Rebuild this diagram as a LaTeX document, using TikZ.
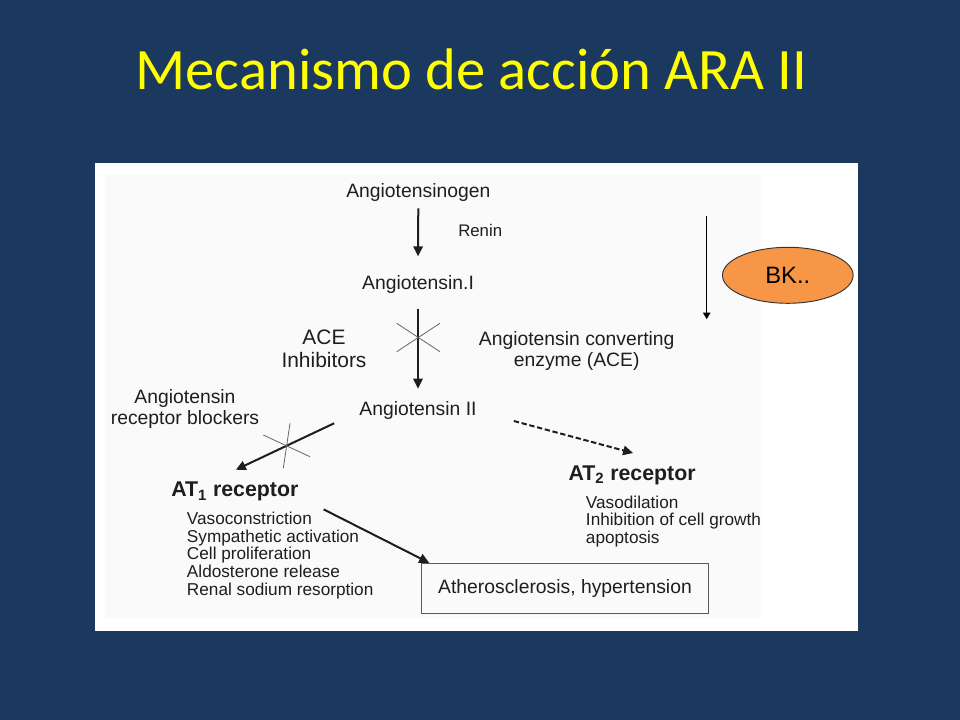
\documentclass[tikz,border=0pt]{standalone}
\usepackage{fontspec}
\setmainfont{Liberation Sans}
\newfontfamily\titlefont{Carlito}
\usetikzlibrary{arrows.meta,shapes.geometric}
\definecolor{bgblue}{HTML}{1B385E}
\definecolor{panelgray}{HTML}{FAFAFA}
\definecolor{inkc}{HTML}{1E1E1E}
\definecolor{bkorange}{HTML}{F79646}
\definecolor{titleyellow}{HTML}{FFFF00}
\begin{document}
\begin{tikzpicture}[x=0.75pt,y=-0.75pt,
  lbl/.style={inner sep=0pt,text=inkc,font=\fontsize{14.5}{17}\selectfont},
  small/.style={inner sep=0pt,text=inkc,font=\fontsize{12.6}{15}\selectfont},
  listtxt/.style={inner sep=0pt,text=inkc,anchor=base west,font=\fontsize{12.9}{15}\selectfont},
  big/.style={inner sep=0pt,text=inkc,font=\fontsize{15.7}{19}\selectfont},
  recep/.style={inner sep=0pt,text=inkc,anchor=base west,font=\fontsize{16}{19}\selectfont\bfseries},
  arr/.style={draw=inkc,line width=1.5pt,-{Triangle[length=7.5pt,width=7pt]}},
  thinarr/.style={draw=black,line width=1pt,-{Triangle[length=5pt,width=5.5pt]}},
  crossl/.style={draw=gray!80!black,line width=0.6pt},
]
\fill[bgblue] (0,0) rectangle (960,720);
\useasboundingbox (0,0) rectangle (960,720);
\fill[white] (95,163) rectangle (858,631);
\fill[panelgray] (105,175) rectangle (761,618);

% title
\node[anchor=base,inner sep=0pt,text=titleyellow,font=\titlefont\fontsize{44}{50}\selectfont] (title) at (471.5,90) {Mecanismo de acción ARA II};

% main chain
\node[lbl,anchor=base] (agen) at (418.3,198) {Angiotensinogen};
\node[small,anchor=base west] (renin) at (458,237) {Renin};
\node[lbl,anchor=base] (a1) at (418,289.3) {Angiotensin.I};
\node[lbl,anchor=base] (a2) at (418,415) {Angiotensin II};

\node[big,anchor=base] (ace1) at (324,344.3) {ACE};
\node[big,anchor=base] (ace2) at (324,367.3) {Inhibitors};

\node[lbl,anchor=base] (conv1) at (576.7,345) {Angiotensin converting};
\node[lbl,anchor=base] (conv2) at (576.7,366) {enzyme (ACE)};

\node[lbl,anchor=base] (arb1) at (185,403.3) {Angiotensin};
\node[lbl,anchor=base] (arb2) at (185,424) {receptor blockers};

% receptors
\node[recep] (at1) at (171,496.7) {AT\textsubscript{1} receptor};
\node[listtxt] (l1) at (186.7,524.3) {Vasoconstriction};
\node[listtxt] (l2) at (186.7,542.0) {Sympathetic activation};
\node[listtxt] (l3) at (186.7,559.7) {Cell proliferation};
\node[listtxt] (l4) at (186.7,577.4) {Aldosterone release};
\node[listtxt] (l5) at (186.7,595.1) {Renal sodium resorption};

\node[recep] (at2) at (568.3,480) {AT\textsubscript{2} receptor};
\node[listtxt] (m1) at (585.7,508.3) {Vasodilation};
\node[listtxt] (m2) at (585.7,525.8) {Inhibition of cell growth};
\node[listtxt] (m3) at (585.7,543.3) {apoptosis};

% outcome box
\node[lbl,draw=gray!70!black,line width=0.7pt,minimum width=215pt,minimum height=37.5pt] (box) at (565,588.3) {Atherosclerosis, hypertension};

% BK
\node[ellipse,draw=black!80,line width=0.7pt,fill=bkorange,minimum width=98pt,minimum height=42pt,inner sep=0pt,font=\fontsize{17.8}{20}\selectfont] (bk) at (787.8,275.3) {BK..};
\coordinate (bkA) at (706.7,216);
\coordinate (bkB) at (706.7,319.3);
\draw[thinarr] (bkA) -- (bkB);

% arrows
\draw[arr,shorten <=4.5pt,shorten >=14pt] (agen.south) -- (a1.north);
\draw[arr,shorten <=11.5pt,shorten >=9pt] (a1.south) -- (a2.north);
\draw[arr] ([shift={(-25,4)}]a2.south west) -- ([shift={(1,-12)}]at1.north);
\draw[arr] ([shift={(25,8)}]at1.south east) -- ([shift={(8,0)}]box.north west);
\draw[arr,dash pattern=on 4pt off 2pt] ([shift={(37,11)}]a2.east) -- ([shift={(1,-12)}]at2.north);

% blocking crosses
\draw[crossl] (396.7,323.3) -- (440,351.7);
\draw[crossl] (396.7,351.7) -- (440,323.3);
\draw[crossl] (263.3,435) -- (310,456.7);
\draw[crossl] (290,423.3) -- (283.3,468.3);
\end{tikzpicture}
\end{document}
